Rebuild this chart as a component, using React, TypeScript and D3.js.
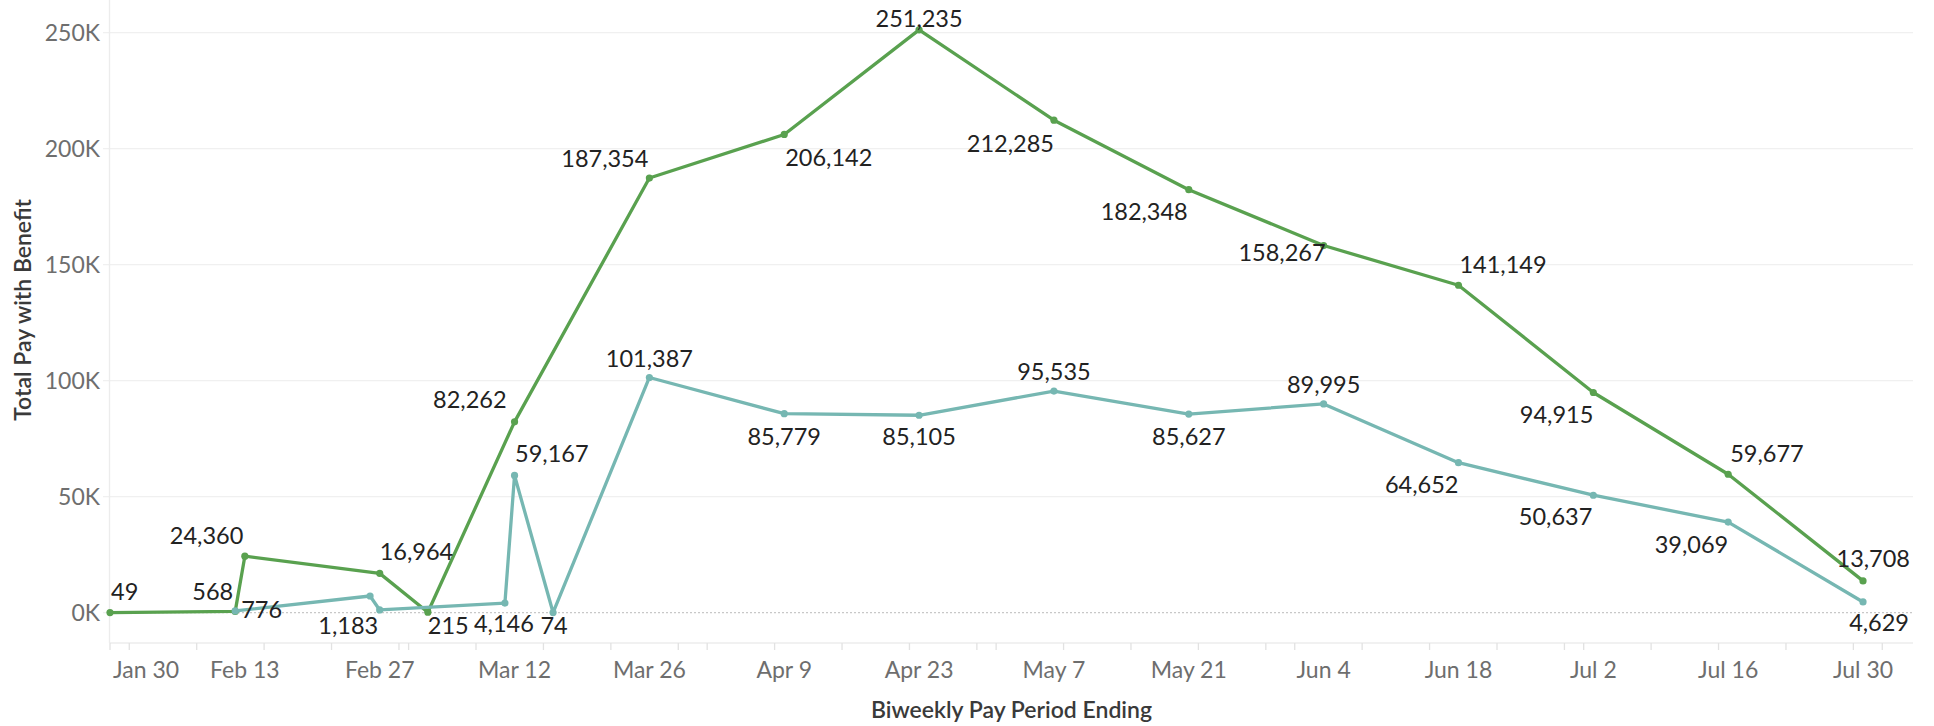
import React from 'react';
import * as d3 from 'd3';

// ---------- data ----------
const greenDates = ['2020-01-30', '2020-02-12', '2020-02-13', '2020-02-27', '2020-03-03', '2020-03-12', '2020-03-26', '2020-04-09', '2020-04-23', '2020-05-07', '2020-05-21', '2020-06-04', '2020-06-18', '2020-07-02', '2020-07-16', '2020-07-30'];
const greenValues = [49, 568, 24360, 16964, 215, 82262, 187354, 206142, 251235, 212285, 182348, 158267, 141149, 94915, 59677, 13708];

const tealDates = ['2020-02-12', '2020-02-26', '2020-02-27', '2020-03-11', '2020-03-12', '2020-03-16', '2020-03-26', '2020-04-09', '2020-04-23', '2020-05-07', '2020-05-21', '2020-06-04', '2020-06-18', '2020-07-02', '2020-07-16', '2020-07-30'];
const tealValues = [776, 7200, 1183, 4146, 59167, 74, 101387, 85779, 85105, 95535, 85627, 89995, 64652, 50637, 39069, 4629];

const xTickLabelDates = ['2020-01-30', '2020-02-13', '2020-02-27', '2020-03-12', '2020-03-26', '2020-04-09', '2020-04-23', '2020-05-07', '2020-05-21', '2020-06-04', '2020-06-18', '2020-07-02', '2020-07-16', '2020-07-30'];
const yTickValues = [0, 50000, 100000, 150000, 200000, 250000];
const yTickLabels = ['0K', '50K', '100K', '150K', '200K', '250K'];

const xTitle = 'Biweekly Pay Period Ending';
const yTitle = 'Total Pay with Benefit';

// ---------- label placement (dx, dy to baseline, anchor) ----------
type Place = [number, number, 'start' | 'middle' | 'end'] | null;
const greenLabelPlace: Place[] = [
  [1, -12.5, 'start'],
  [-2, -11.5, 'end'],
  [-1.5, -12, 'end'],
  [0, -13, 'start'],
  [0, 22, 'start'],
  [-8, -14, 'end'],
  [-1, -11, 'end'],
  [1, 31.5, 'start'],
  [0, -2.5, 'middle'],
  [0, 31.5, 'end'],
  [-1, 30.5, 'end'],
  [2, 15.5, 'end'],
  [1, -12.5, 'start'],
  [0, 30.5, 'end'],
  [2, -12, 'start'],
  [47, -13.5, 'end'],
];
const tealLabelPlace: Place[] = [
  [6, 7.5, 'start'],
  null,
  [-1.5, 24, 'end'],
  [-1, 28.5, 'middle'],
  [0.5, -13, 'start'],
  [1, 21.5, 'middle'],
  [0, -10.5, 'middle'],
  [0, 31, 'middle'],
  [0, 30, 'middle'],
  [0, -11, 'middle'],
  [0, 31, 'middle'],
  [0, -11, 'middle'],
  [0, 30.5, 'end'],
  [-1, 30, 'end'],
  [0, 30.5, 'end'],
  [46, 29, 'end'],
];

// ---------- layout & style ----------
const W = 1934;
const H = 726;
const plotLeft = 110;
const plotRight = 1913;
const plotTop = 0;
const plotBottom = 643;
const FONT = "Lato, 'Open Sans', 'DejaVu Sans', sans-serif";
const GREEN = '#59a14f';
const TEAL = '#76b7b2';

const parse = d3.utcParse('%Y-%m-%d');

export default function App() {
  const x = d3
    .scaleUtc()
    .domain([parse('2020-01-30') as Date, new Date((parse('2020-01-30') as Date).getTime() + 187.19 * 86400000)])
    .range([plotLeft, plotRight]);
  const y = d3.scaleLinear().domain([-13060, 264100]).range([plotBottom, plotTop]);

  const fmt = d3.format(',');
  const tickFmt = d3.utcFormat('%b %-d');

  const green = greenDates.map((d, i) => ({ date: parse(d) as Date, value: greenValues[i] }));
  const teal = tealDates.map((d, i) => ({ date: parse(d) as Date, value: tealValues[i] }));

  const line = d3
    .line<{ date: Date; value: number }>()
    .x((d) => x(d.date))
    .y((d) => y(d.value));

  const weekTicks = d3.utcDay.every(7)!.range(parse('2020-01-30') as Date, x.domain()[1]);
  const weekTicksAll = [parse('2020-01-30') as Date, ...weekTicks.filter((t) => t.getTime() !== (parse('2020-01-30') as Date).getTime())];
  const majorTicks = xTickLabelDates.map((d) => parse(d) as Date);

  const renderLabels = (data: { date: Date; value: number }[], places: Place[], key: string) =>
    data.map((d, i) => {
      const p = places[i];
      if (!p) return null;
      return (
        <text
          key={key + i}
          x={x(d.date) + p[0]}
          y={y(d.value) + p[1]}
          textAnchor={p[2]}
          fontFamily={FONT}
          fontSize={23.5}
          fill="#222"
        >
          {fmt(d.value)}
        </text>
      );
    });

  return (
    <div style={{ position: 'absolute', left: 0, top: 0 }}>
      <svg width={W} height={H} style={{ display: 'block', background: '#fff' }}>
        {/* gridlines */}
        {yTickValues.filter((v) => v !== 0).map((v) => (
          <line key={'g' + v} x1={plotLeft - 7} x2={plotRight} y1={y(v)} y2={y(v)} stroke="#f0f0f0" strokeWidth={1.3} />
        ))}
        {/* zero line */}
        <line x1={plotLeft} x2={plotRight} y1={y(0)} y2={y(0)} stroke="#c8c8c8" strokeWidth={1.2} strokeDasharray="2,2" />
        <line x1={plotLeft - 7} x2={plotLeft} y1={y(0)} y2={y(0)} stroke="#f0f0f0" strokeWidth={1.3} />
        {/* axes frame */}
        <line x1={plotLeft - 0.5} x2={plotLeft - 0.5} y1={plotTop} y2={plotBottom} stroke="#ececec" strokeWidth={1.3} />
        <line x1={plotLeft} x2={plotRight} y1={plotBottom} y2={plotBottom} stroke="#ececec" strokeWidth={1.3} />
        {weekTicksAll.map((t) => (
          <line key={'t' + t.getTime()} x1={x(t)} x2={x(t)} y1={plotBottom} y2={plotBottom + 7} stroke="#e2e2e2" strokeWidth={1.3} />
        ))}

        {/* y tick labels */}
        {yTickValues.map((v, i) => (
          <text key={'yl' + v} x={plotLeft - 10} y={y(v) + 8.5} textAnchor="end" fontFamily={FONT} fontSize={23} fill="#6e6e6e">
            {yTickLabels[i]}
          </text>
        ))}
        {/* x tick labels */}
        {majorTicks.map((t, i) => {
          const cx = x(t);
          const first = i === 0;
          return (
            <text
              key={'xl' + i}
              x={first ? plotLeft + 3 : cx}
              y={678}
              textAnchor={first ? 'start' : 'middle'}
              fontFamily={FONT}
              fontSize={23}
              fill="#6e6e6e"
            >
              {tickFmt(t)}
            </text>
          );
        })}

        {/* titles */}
        <text x={(plotLeft + plotRight) / 2} y={718} textAnchor="middle" fontFamily={FONT} fontSize={23} fontWeight={600} fill="#3a3a3a">
          {xTitle}
        </text>
        <text
          transform={`translate(31,310) rotate(-90)`}
          textAnchor="middle"
          fontFamily={FONT}
          fontSize={23}
          fontWeight={600}
          fill="#3a3a3a"
        >
          {yTitle}
        </text>

        {/* lines */}
        <path d={line(green) || ''} fill="none" stroke={GREEN} strokeWidth={3.3} strokeLinejoin="round" />
        {green.map((d, i) => (
          <circle key={'gp' + i} cx={x(d.date)} cy={y(d.value)} r={3.6} fill={GREEN} />
        ))}
        <path d={line(teal) || ''} fill="none" stroke={TEAL} strokeWidth={3.3} strokeLinejoin="round" />
        {teal.map((d, i) => (
          <circle key={'tp' + i} cx={x(d.date)} cy={y(d.value)} r={3.6} fill={TEAL} />
        ))}

        {/* data labels */}
        {renderLabels(green, greenLabelPlace, 'gl')}
        {renderLabels(teal, tealLabelPlace, 'tl')}
      </svg>
    </div>
  );
}
